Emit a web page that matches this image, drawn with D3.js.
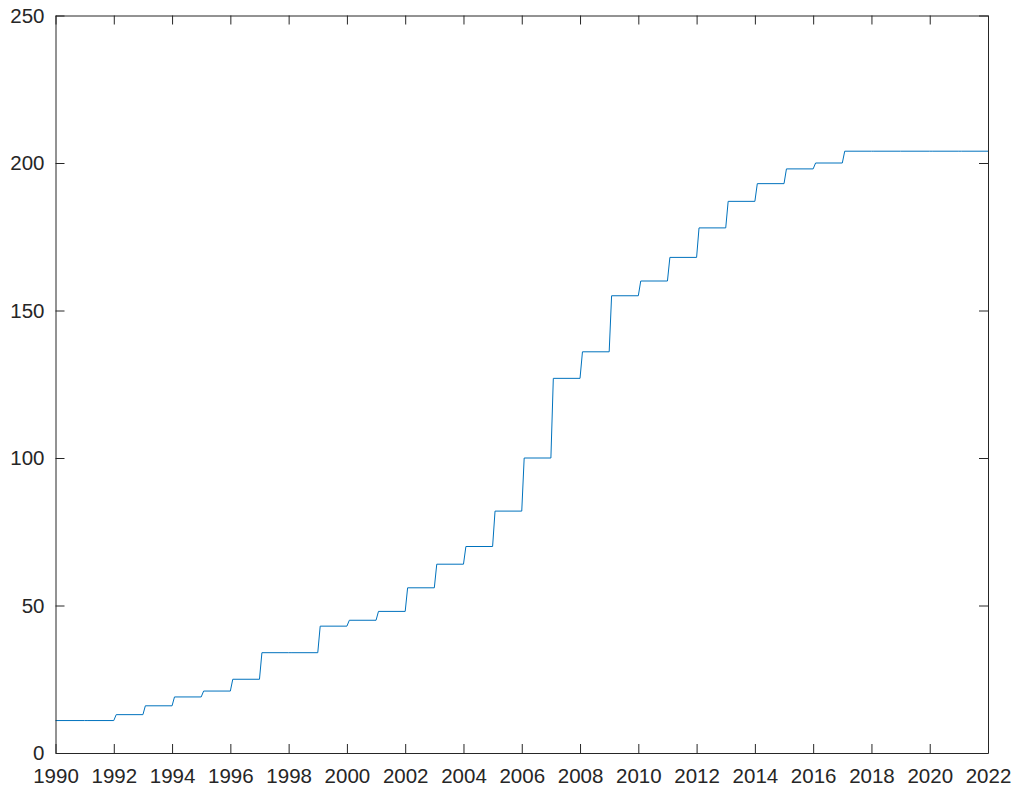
<!DOCTYPE html>
<html>
<head>
<meta charset="utf-8">
<script src="https://cdn.jsdelivr.net/npm/d3@7"></script>
<style>
  html, body { margin: 0; padding: 0; background: #fff; }
  svg { display: block; }
  .tick text { font-family: "Liberation Sans", Arial, Helvetica, sans-serif; font-size: 20.5px; fill: #262626; }
</style>
</head>
<body>
<svg id="chart" width="1016" height="792"></svg>
<script>
// Yearly levels of the cumulative count (value reached early in each year)
const years = d3.range(1990, 2023);
const values = [11, 11, 13, 16, 19, 21, 25, 34, 34, 43, 45, 48, 56, 64, 70, 82,
                100, 127, 136, 155, 160, 168, 178, 187, 193, 198, 200, 204, 204, 204, 204, 204, 204];
const xTicks = d3.range(1990, 2023, 2);
const yTicks = [0, 50, 100, 150, 200, 250];

const svg = d3.select("#chart");
const W = 1016, H = 792;
const margin = { left: 55.5, right: W - 988, top: 15.5, bottom: H - 753 };

const x = d3.scaleLinear().domain([1990, 2022]).range([margin.left, W - margin.right]);
const y = d3.scaleLinear().domain([0, 250]).range([H - margin.bottom, margin.top]);

// Monthly sampling: each new level shows up one month into the year
const pts = [];
years.forEach((yr, i) => {
  if (i === 0) {
    pts.push([yr, values[i]]);
  } else {
    pts.push([yr, values[i - 1]]);
    if (yr + 1 / 12 <= 2022) pts.push([yr + 1 / 12, values[i]]);
    else pts.push([yr, values[i]]);
  }
});
pts.push([2022, values[values.length - 1]]);

const axisColor = "#262626";
const tickLen = 9;

// Series
svg.append("path")
  .datum(pts)
  .attr("fill", "none")
  .attr("stroke", "#0072BD")
  .attr("stroke-width", 1)
  .attr("d", d3.line().x(d => x(d[0])).y(d => y(d[1])));

// Bottom axis with inward ticks
const gB = svg.append("g").attr("transform", `translate(0,${y(0)})`)
  .call(d3.axisBottom(x).tickValues(xTicks).tickFormat(d3.format("d")).tickSizeInner(-tickLen).tickSizeOuter(0).tickPadding(15.5));
// Top axis mirrored ticks
const gT = svg.append("g").attr("transform", `translate(0,${y(250)})`)
  .call(d3.axisTop(x).tickValues(xTicks).tickFormat("").tickSizeInner(-tickLen).tickSizeOuter(0));
// Left axis
const gL = svg.append("g").attr("transform", `translate(${x(1990)},0)`)
  .call(d3.axisLeft(y).tickValues(yTicks).tickFormat(d3.format("d")).tickSizeInner(-tickLen).tickSizeOuter(0).tickPadding(11));
// Right axis mirrored ticks
const gR = svg.append("g").attr("transform", `translate(${x(2022)},0)`)
  .call(d3.axisRight(y).tickValues(yTicks).tickFormat("").tickSizeInner(-tickLen).tickSizeOuter(0));

[gB, gT, gL, gR].forEach(g => {
  g.attr("font-family", null).attr("font-size", null);
  g.selectAll("path.domain").attr("stroke", axisColor).attr("stroke-width", 1);
  g.selectAll(".tick line").attr("stroke", axisColor).attr("stroke-width", 1);
});
gB.selectAll(".tick text").attr("dy", "0.71em");
</script>
</body>
</html>
